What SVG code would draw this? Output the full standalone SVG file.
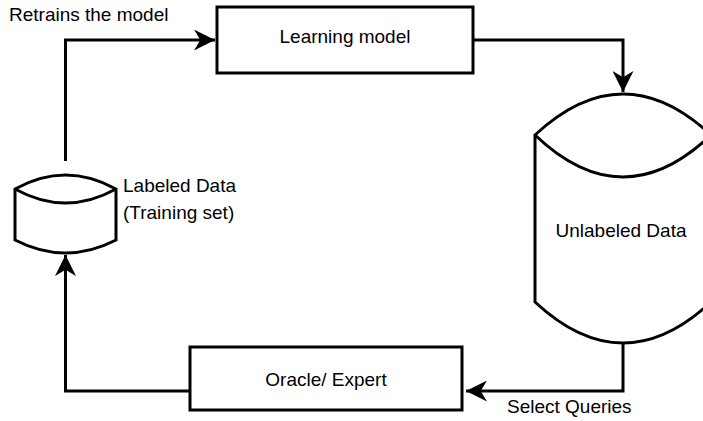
<svg xmlns="http://www.w3.org/2000/svg" width="703" height="421" viewBox="0 0 703 421">
<style>
.n{fill:#fff;stroke:#000;stroke-width:3}
.c{fill:none;stroke:#000;stroke-width:3}
text{font-family:"Liberation Sans",Arial,sans-serif;font-size:19px;fill:#000}
.m{text-anchor:middle}
</style>
<defs>
<marker id="ah" viewBox="0 0 20 20" refX="20" refY="10" markerWidth="21" markerHeight="21" markerUnits="userSpaceOnUse" orient="auto">
<path d="M0,0 L20,10 L0,20 L6,10 Z" fill="#000"/>
</marker>
</defs>
<rect width="703" height="421" fill="#fff"/>
<g id="connectors">
<path class="c" d="M65.5,161 V40 H215" marker-end="url(#ah)"/>
<path class="c" d="M473,40 H623 V92" marker-end="url(#ah)"/>
<path class="c" d="M623,343 V391 H466" marker-end="url(#ah)"/>
<path class="c" d="M190,391 H65.5 V255" marker-end="url(#ah)"/>
</g>
<g id="learning-model">
<rect class="n" x="217" y="7" width="256" height="66"/>
<text class="m" x="345" y="43">Learning model</text>
</g>
<g id="unlabeled-data">
<path class="n" d="M535,135 Q623,53 711,135 V302 Q623,384 535,302 Z"/>
<path class="c" d="M535,135 Q623,219 711,135"/>
<text class="m" x="621" y="237">Unlabeled Data</text>
</g>
<g id="oracle">
<rect class="n" x="190" y="347" width="272" height="63"/>
<text class="m" x="326" y="386">Oracle/ Expert</text>
</g>
<g id="labeled-data">
<path class="n" d="M15,189 Q65.5,161 116,189 V240 Q65.5,266 15,240 Z"/>
<path class="c" d="M15,189 Q65.5,217 116,189"/>
<text x="123" y="192">Labeled Data</text>
<text x="123" y="219">(Training set)</text>
</g>
<text x="9" y="21">Retrains the model</text>
<text x="507" y="413">Select Queries</text>
</svg>
